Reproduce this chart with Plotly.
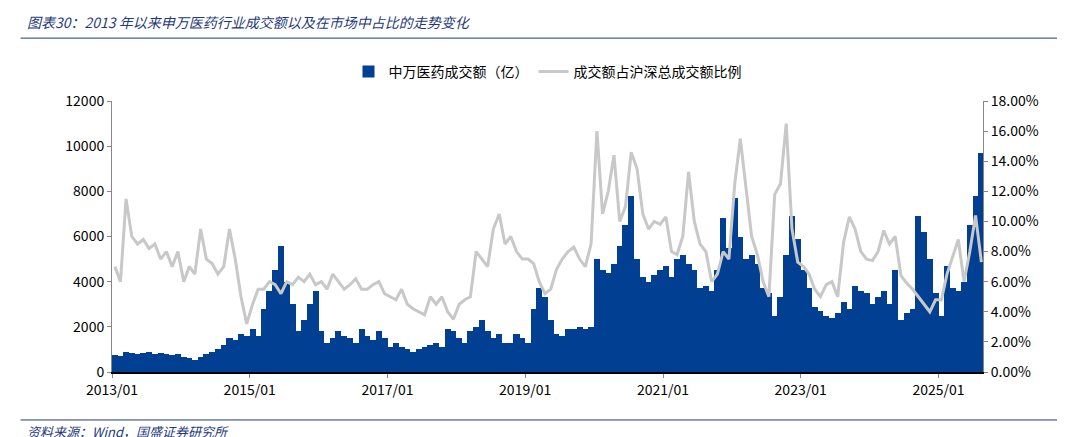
import pandas as pd
import plotly.graph_objects as go

months = pd.date_range("2013-01-01", periods=152, freq="MS")

turnover = [
    750, 700, 900, 850, 800, 850, 900, 800, 850, 800, 750, 800,
    650, 600, 550, 650, 800, 900, 1000, 1200, 1500, 1400, 1700, 1600,
    1900, 1600, 2800, 3600, 4500, 5600, 4000, 3000, 1800, 2300, 3000, 3600,
    1800, 1300, 1500, 1800, 1600, 1500, 1300, 1900, 1600, 1400, 1800, 1500,
    1100, 1300, 1100, 1000, 900, 1000, 1100, 1200, 1300, 1100, 1900, 1800,
    1500, 1300, 1800, 2000, 2300, 1800, 1500, 1700, 1300, 1300, 1700, 1500,
    1300, 2800, 3700, 3300, 2300, 1700, 1600, 1900, 1900, 2000, 1900, 2000,
    5000, 4500, 4400, 4800, 5600, 6500, 7800, 5000, 4200, 4000, 4300, 4500,
    4700, 4200, 5000, 5200, 4800, 4500, 3700, 3800, 3600, 4500, 6800, 5500,
    7700, 6000, 5000, 5200, 4800, 3700, 3500, 2500, 3300, 5200, 6900, 5900,
    4500, 3700, 2900, 2700, 2500, 2400, 2600, 3100, 2800, 3800, 3600, 3500,
    3000, 3300, 3600, 3000, 4500, 2300, 2600, 2800, 6900, 6200, 5000, 3500,
    2500, 4700, 3700, 3600, 4000, 6500, 7800, 9700,
]

share_pct = [
    7.0, 6.0, 11.5, 9.0, 8.5, 8.8, 8.2, 8.5, 7.5, 8.0, 7.0, 8.0,
    6.0, 7.0, 6.5, 9.5, 7.5, 7.2, 6.5, 7.0, 9.5, 7.5, 5.0, 3.2,
    4.5, 5.5, 5.5, 6.0, 5.8, 5.2, 6.0, 5.8, 6.3, 6.0, 6.5, 5.8,
    6.0, 5.5, 6.5, 6.0, 5.5, 5.8, 6.2, 5.5, 5.5, 5.8, 6.0, 5.2,
    5.0, 4.8, 5.5, 4.5, 4.2, 4.0, 3.8, 5.0, 4.5, 5.0, 4.0, 3.5,
    4.5, 4.8, 5.0, 8.0, 7.5, 7.0, 9.5, 10.5, 8.5, 9.0, 8.0, 7.5,
    7.5, 7.2, 6.0, 5.2, 5.5, 6.8, 7.5, 8.0, 8.3, 7.5, 7.0, 8.5,
    16.0, 10.5, 12.0, 14.4, 10.0, 11.0, 14.6, 13.5, 10.5, 9.5, 10.0, 9.8,
    10.3, 8.0, 7.8, 9.0, 13.3, 10.0, 8.5, 8.0, 6.0, 6.5, 8.0, 7.5,
    12.5, 15.5, 12.3, 9.0, 7.8, 6.0, 5.0, 11.8, 12.5, 16.5, 9.5, 7.3,
    7.0, 6.5, 5.5, 5.0, 5.8, 6.0, 5.0, 8.6, 10.3, 9.5, 8.0, 7.5,
    7.4, 8.0, 9.4, 8.5, 9.0, 6.4, 5.9, 5.5, 5.0, 4.5, 4.0, 4.8,
    4.8, 6.5, 7.7, 8.8, 6.0, 8.0, 10.4, 7.3,
]
share = [v / 100 for v in share_pct]

tick_dates = ["2013-01-01", "2015-01-01", "2017-01-01", "2019-01-01",
              "2021-01-01", "2023-01-01", "2025-01-01"]
tick_labels = ["2013/01", "2015/01", "2017/01", "2019/01", "2021/01", "2023/01", "2025/01"]

BLUE = "#003f91"
GRAY = "#c8c8c8"
NAVY = "#1f3a7a"
FONT = "Noto Sans CJK SC"
MONTH_MS = 32 * 86400000

fig = go.Figure()
fig.add_trace(go.Bar(x=months, y=turnover, name="中万医药成交额（亿）",
                     width=[MONTH_MS] * len(months), xperiod="M1", xperiodalignment="middle",
                     marker=dict(color=BLUE, line=dict(width=0))))
fig.add_trace(go.Scatter(x=months, y=share, name="成交额占沪深总成交额比例",
                         mode="lines", yaxis="y2", xperiod="M1", xperiodalignment="middle",
                         line=dict(color=GRAY, width=3)))

fig.update_layout(
    width=1065, height=437,
    margin=dict(l=104, r=90, t=93, b=73),
    plot_bgcolor="white", paper_bgcolor="white",
    font=dict(family=FONT, size=14, color="#000"),
    bargap=0,
    showlegend=True,
    legend=dict(orientation="h", x=0.5, xanchor="center", y=1.107, yanchor="middle",
                font=dict(size=14)),
    xaxis=dict(range=["2013-01-01", "2025-08-25"], tickvals=tick_dates, ticktext=tick_labels,
               showgrid=False, showline=True, linecolor="#000", linewidth=1.5,
               ticks="outside", ticklen=4, tickcolor="#888"),
    yaxis=dict(range=[0, 12000], dtick=2000, tickformat="d", showgrid=False, showline=True,
               linecolor="#888", ticks="outside", ticklen=4, tickcolor="#888"),
    yaxis2=dict(range=[0, 0.18], dtick=0.02, tickformat=".2%", overlaying="y", side="right",
                showgrid=False, showline=True, linecolor="#888", ticks="outside",
                ticklen=4, tickcolor="#888"),
    annotations=[
        dict(text="<i>图表30：2013 年以来申万医药行业成交额以及在市场中占比的走势变化</i>",
             xref="paper", yref="paper", x=-0.1, y=1.29, xanchor="left", yanchor="middle",
             showarrow=False, font=dict(size=14, color=NAVY, family=FONT)),
        dict(text="<i>资料来源：Wind，国盛证券研究所</i>",
             xref="paper", yref="paper", x=-0.1, y=-0.22, xanchor="left", yanchor="middle",
             showarrow=False, font=dict(size=13, color=NAVY, family=FONT)),
    ],
    shapes=[
        dict(type="line", xref="paper", yref="paper", x0=-0.105, x1=1.085, y0=1.232,
             y1=1.232, line=dict(color=NAVY, width=1)),
        dict(type="line", xref="paper", yref="paper", x0=-0.105, x1=1.085, y0=-0.177,
             y1=-0.177, line=dict(color=NAVY, width=1)),
    ],
)

fig.write_html("out.html")
